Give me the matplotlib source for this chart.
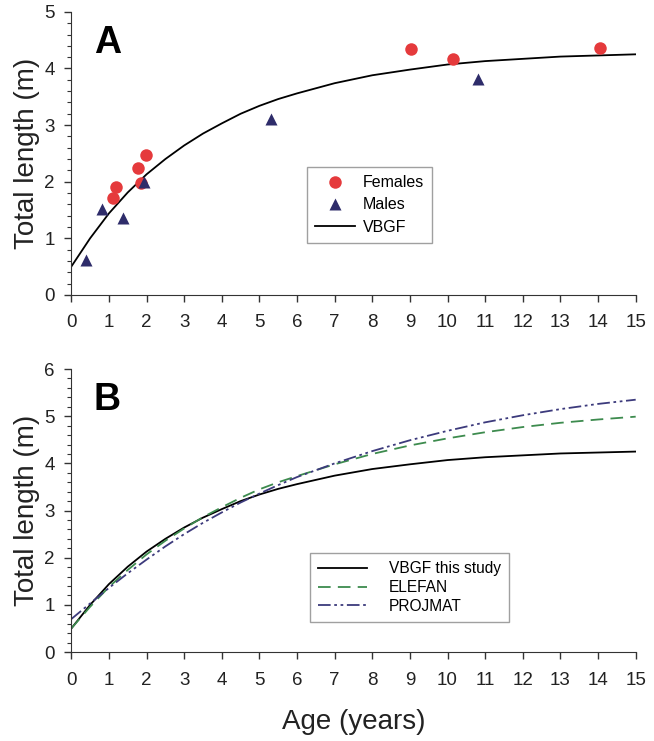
import matplotlib
matplotlib.use("Agg")
import matplotlib.pyplot as plt
from matplotlib.ticker import MultipleLocator

plt.rcParams['font.family'] = ['Liberation Sans', 'DejaVu Sans']

# Panel A observations
fem_age = [1.12, 1.20, 1.78, 1.85, 1.98, 9.02, 10.15, 14.05]
fem_len = [1.72, 1.90, 2.24, 1.98, 2.47, 4.35, 4.17, 4.37]
male_age = [0.40, 0.82, 1.38, 1.92, 5.30, 10.80]
male_len = [0.62, 1.52, 1.35, 2.00, 3.10, 3.82]

# Growth curves
age = [0, 0.5, 1, 1.5, 2, 2.5, 3, 3.5, 4, 4.5, 5, 5.5, 6, 7, 8, 9, 10, 11, 12, 13, 14, 15]
vbgf = [0.50, 1.00, 1.44, 1.81, 2.13, 2.40, 2.64, 2.85, 3.03, 3.20, 3.34, 3.46, 3.56, 3.74,
        3.88, 3.98, 4.07, 4.13, 4.17, 4.21, 4.23, 4.25]
elefan = [0.50, 0.96, 1.38, 1.74, 2.07, 2.36, 2.62, 2.86, 3.07, 3.27, 3.45, 3.60, 3.73, 3.98,
          4.20, 4.38, 4.53, 4.66, 4.77, 4.86, 4.93, 4.99]
projmat = [0.70, 1.03, 1.36, 1.67, 1.96, 2.24, 2.50, 2.74, 2.96, 3.17, 3.36, 3.54, 3.71, 4.00,
           4.26, 4.49, 4.69, 4.87, 5.02, 5.15, 5.26, 5.35]

xticks = list(range(0, 16))

red = '#e53a3c'
navy = '#2e2c6a'
green = '#3d8b4e'
purple = '#3c3a7c'

fig = plt.figure(figsize=(6.54, 7.41), dpi=100)
axA = fig.add_axes([0.109, 0.602, 0.863, 0.382])
axB = fig.add_axes([0.109, 0.120, 0.863, 0.382])


def style(ax, ymax):
    for s in ['top', 'right']:
        ax.spines[s].set_visible(False)
    ax.spines['left'].set_color('#333333')
    ax.spines['bottom'].set_color('#333333')
    ax.set_xlim(0, 15)
    ax.set_ylim(0, ymax)
    ax.set_xticks(xticks)
    ax.yaxis.set_major_locator(MultipleLocator(1))
    ax.yaxis.set_minor_locator(MultipleLocator(0.2))
    ax.tick_params(axis='both', which='major', direction='out', length=5, width=1,
                   labelsize=13.5, colors='#333333', labelcolor='#222222')
    ax.tick_params(axis='x', which='major', pad=9)
    ax.tick_params(axis='y', which='major', pad=7)
    ax.tick_params(axis='y', which='minor', direction='out', length=3, width=0.8, colors='#333333')
    ax.set_ylabel('Total length (m)', fontsize=20, color='#222222')
    ax.yaxis.set_label_coords(-0.056, 0.5)


style(axA, 5)
axA.plot(fem_age, fem_len, 'o', color=red, ms=9, mec='none', label='Females', clip_on=False, zorder=3)
axA.plot(male_age, male_len, '^', color=navy, ms=9, mec='none', label='Males', clip_on=False, zorder=3)
axA.plot(age, vbgf, '-', color='black', lw=1.3, label='VBGF', zorder=2)
axA.text(0.04, 0.855, 'A', transform=axA.transAxes, fontsize=27, fontweight='bold')
legA = axA.legend(loc='center', bbox_to_anchor=(0.528, 0.318), fontsize=11.5, frameon=True,
                  fancybox=False, edgecolor='#888888', handlelength=2.5, handletextpad=0.5,
                  borderpad=0.5, labelspacing=0.45, numpoints=1)
legA.get_frame().set_linewidth(1.0)

style(axB, 6)
axB.plot(age, vbgf, '-', color='black', lw=1.3, label='VBGF this study')
axB.plot(age, elefan, '--', color=green, lw=1.3, dashes=(7, 4), label='ELEFAN')
axB.plot(age, projmat, color=purple, lw=1.3, dashes=(7, 2, 1.5, 2, 1.5, 2), label='PROJMAT')
axB.text(0.04, 0.855, 'B', transform=axB.transAxes, fontsize=27, fontweight='bold')
axB.set_xlabel('Age (years)', fontsize=20, color='#222222', labelpad=15)
legB = axB.legend(loc='center', bbox_to_anchor=(0.599, 0.228), fontsize=11.2, frameon=True,
                  fancybox=False, edgecolor='#888888', handlelength=3.2, handletextpad=1.4,
                  borderpad=0.5, labelspacing=0.25)
legB.get_frame().set_linewidth(1.0)

fig.savefig('out.png', dpi=100)
